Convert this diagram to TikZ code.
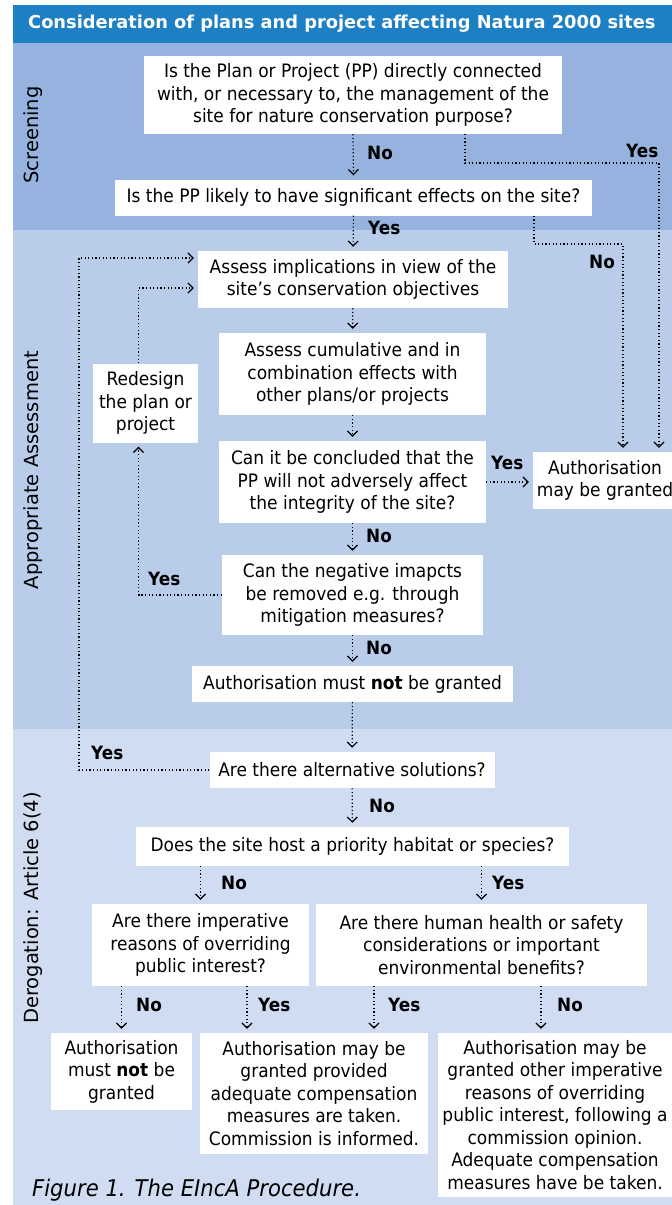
\documentclass[tikz,border=0pt]{standalone}
\usepackage{fontspec}
\setmainfont{DejaVu Sans}
\newfontfamily\condfont{DejaVu Sans}[FakeStretch=0.92]
\usetikzlibrary{arrows.meta,positioning,calc}
\definecolor{titleblue}{RGB}{30,128,196}
\definecolor{screenblue}{RGB}{149,179,222}
\definecolor{assessblue}{RGB}{185,205,235}
\definecolor{derogblue}{RGB}{207,220,242}

\begin{document}
\begin{tikzpicture}[x=1pt,y=-1pt,
				box/.style={fill=white,inner sep=2pt,align=center,font=\condfont\fontsize{18.5}{22.5}\selectfont},
				lbl/.style={anchor=west,inner sep=0pt,font=\condfont\bfseries\fontsize{18.3}{20}\selectfont},
				side/.style={rotate=90,font=\fontsize{19.5}{22}\selectfont},
				flow/.style={line width=1.2pt,dash pattern=on 1.2pt off 2.4pt,-{Straight Barb[length=5pt,width=10pt]},shorten >=4pt}
				]
				\useasboundingbox (0,0) rectangle (672,1205);
				
				% Bands
				\fill[titleblue] (13,5) rectangle (672,43);
				\fill[screenblue] (13,43) rectangle (672,230);
				\fill[assessblue] (13,230) rectangle (672,729);
				\fill[derogblue] (13,729) rectangle (672,1205);
				\node[anchor=west,inner sep=0pt,text=white,font=\bfseries\fontsize{17.8}{20}\selectfont] (title) at (28,24) {Consideration of plans and project affecting Natura 2000 sites};
				\node[side] (screening) at (33,135) {Screening};
				\node[side] (appropriate) at (33,470) {Appropriate Assessment};
				\node[side] (derogation) at (33,908) {Derogation: Article 6(4)};
				
				% Screening
				\node[box,minimum width=418,minimum height=78] (q1) at (353,95) {Is the Plan or Project (PP) directly connected\\with, or necessary to, the management of the\\site for nature conservation purpose?};
				\node[box,minimum width=477,minimum height=36] (q2) at (353.5,197.5) {Is the PP likely to have significant effects on the site?};
				
				% Appropriate assessment
				\node[box,minimum width=310,minimum height=57] (assess) at (353,279.5) {Assess implications in view of the\\site’s conservation objectives};
				\node[box,minimum width=267,minimum height=82] (cumul) at (352.5,374) {Assess cumulative and in\\combination effects with\\other plans/or projects};
				\node[box,minimum width=267,minimum height=82] (concl) at (352.5,482) {Can it be concluded that the\\PP will not adversely affect\\the integrity of the site?};
				\node[box,minimum width=105,minimum height=79] (redesign) at (145.5,403) {Redesign\\the plan or\\project};
				\node[box,minimum width=144,minimum height=57] (granted) at (605,480.5) {Authorisation\\may be granted};
				\node[box,minimum width=261,minimum height=80] (negative) at (352.5,595) {Can the negative imapcts\\be removed e.g. through\\mitigation measures?};
				\node[box,minimum width=321,minimum height=36] (mustnot) at (352.5,684) {Authorisation must \textbf{not} be granted};
				
				% Derogation
				\node[box,minimum width=285,minimum height=36] (alt) at (352,770) {Are there alternative solutions?};
				\node[box,minimum width=433,minimum height=39] (host) at (352.5,846.5) {Does the site host a priority habitat or species?};
				\node[box,minimum width=217,minimum height=82] (imper) at (200.5,945) {Are there imperative\\reasons of overriding\\public interest?};
				\node[box,minimum width=331,minimum height=82] (health) at (481.5,945) {Are there human health or safety\\considerations or important\\environmental benefits?};
				\node[box,minimum width=141,minimum height=77] (notgr) at (121.5,1071.5) {Authorisation\\must \textbf{not} be\\granted};
				\node[box,minimum width=228,minimum height=121] (compens) at (314,1093.5) {Authorisation may be\\granted provided\\adequate compensation\\measures are taken.\\Commission is informed.};
				\node[box,minimum width=234,minimum height=164] (opinion) at (555,1115) {Authorisation may be\\granted other imperative\\reasons of overriding\\public interest, following a\\commission opinion.\\Adequate compensation\\measures have be taken.};
				\node[anchor=west,inner sep=0pt,font=\condfont\itshape\fontsize{23}{25}\selectfont] (caption) at (32,1190) {Figure 1. The EIncA Procedure.};
				
				% Connections
				\coordinate (rtop) at (659,163);
				\coordinate (rmid) at (623,244);
				\coordinate (loopL) at (79,258);
				\draw[flow] (q1.south) -- (q2.north);
				\draw[flow] ([xshift=112pt]q1.south) |- (rtop) -- (rtop |- granted.north);
				\draw[flow] ([xshift=180.5pt]q2.south) |- (rmid) -- (rmid |- granted.north);
				\draw[flow] (q2.south) -- (assess.north);
				\draw[flow] (assess) -- (cumul);
				\draw[flow] (cumul) -- (concl);
				\draw[flow] (concl.east) -- (concl.east -| granted.west);
				\draw[flow] (concl) -- (negative);
				\draw[flow] (negative.west) -| ([xshift=-7pt]redesign.south);
				\draw[flow] ([xshift=-7pt]redesign.north) |- ([yshift=-8.5pt]assess.west);
				\draw[flow] (negative) -- (mustnot);
				\draw[flow] (mustnot) -- (alt);
				\draw[flow] (alt.west) -| (loopL) -- (loopL -| assess.west);
				\draw[flow] (alt) -- (host);
				\draw[flow] (host.south -| imper.north) -- (imper.north);
				\draw[flow] (host.south -| health.north) -- (health.north);
				\coordinate (iyes) at ([xshift=46.5pt]imper.south);
				\coordinate (hyes) at ([xshift=-107.5pt]health.south);
				\coordinate (hno) at ([xshift=59.5pt]health.south);
				\draw[flow] (imper.south -| notgr.north) -- (notgr.north);
				\draw[flow] (iyes) -- (iyes |- compens.north);
				\draw[flow] (hyes) -- (hyes |- compens.north);
				\draw[flow] (hno) -- (hno |- opinion.north);
				
				% Labels
				\node[lbl] (l1) at (367,153) {No};
				\node[lbl] (l2) at (626,151) {Yes};
				\node[lbl] (l3) at (368,228) {Yes};
				\node[lbl] (l4) at (589,262) {No};
				\node[lbl] (l5) at (491,463) {Yes};
				\node[lbl] (l6) at (366,536) {No};
				\node[lbl] (l7) at (148,579) {Yes};
				\node[lbl] (l8) at (366,648) {No};
				\node[lbl] (l9) at (91,753) {Yes};
				\node[lbl] (l10) at (369,806) {No};
				\node[lbl] (l11) at (221,883) {No};
				\node[lbl] (l12) at (492,883) {Yes};
				\node[lbl] (l13) at (136,1005) {No};
				\node[lbl] (l14) at (258,1005) {Yes};
				\node[lbl] (l15) at (388,1005) {Yes};
				\node[lbl] (l16) at (557,1005) {No};
				
			\end{tikzpicture}
\end{document}
